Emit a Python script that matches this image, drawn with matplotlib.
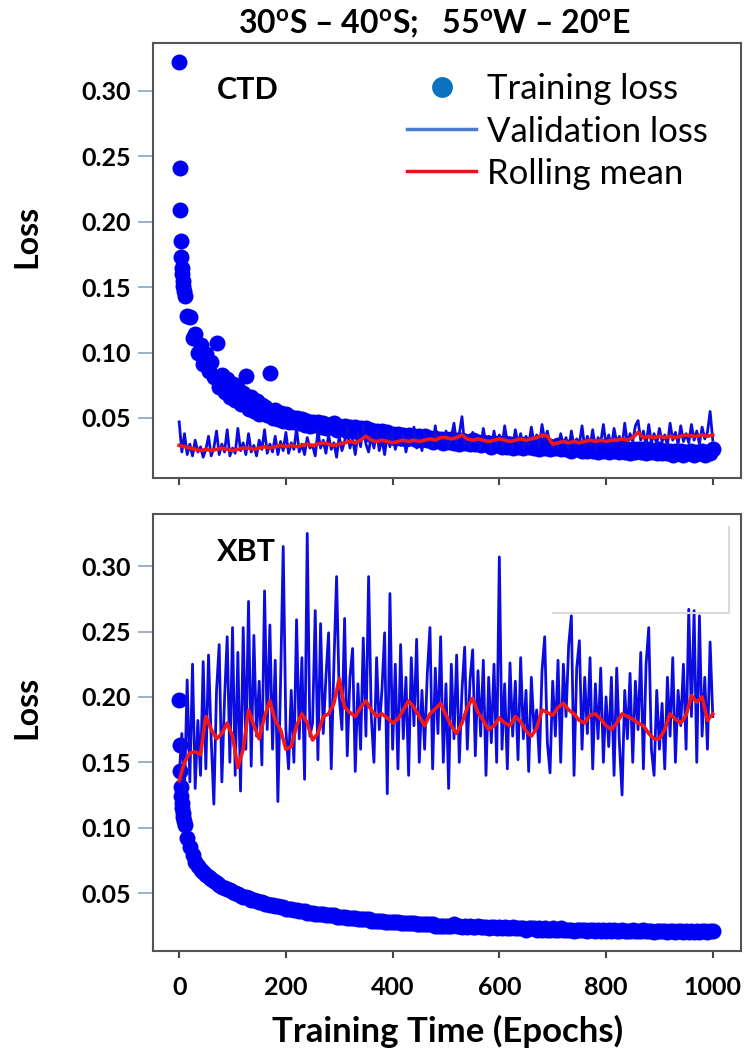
import matplotlib
matplotlib.use("Agg")
import matplotlib.pyplot as plt
from matplotlib.lines import Line2D

plt.rcParams['font.family'] = ['Lato', 'DejaVu Sans']
plt.rcParams['mathtext.fontset'] = 'custom'
plt.rcParams['mathtext.rm'] = 'Lato'
plt.rcParams['mathtext.bf'] = 'Lato:bold'

# epochs: first ten one by one, then every 5 (training); every 5 (validation); every 10 (rolling mean)
train_epochs = list(range(10)) + list(range(10, 1001, 5))
val_epochs = list(range(0, 1001, 5))
roll_epochs = list(range(0, 1001, 10))

# ---- CTD panel ----
ctd_train = [
    0.322, 0.241, 0.209, 0.185, 0.173, 0.165, 0.160, 0.155, 0.151, 0.147,
    0.143, 0.128, 0.127, 0.111, 0.114, 0.100, 0.106, 0.091, 0.099, 0.086,
    0.093, 0.081, 0.107, 0.074, 0.083, 0.070, 0.080, 0.066, 0.076, 0.064,
    0.072, 0.061, 0.069, 0.082, 0.057, 0.066, 0.055, 0.063, 0.053, 0.060,
    0.058, 0.052, 0.084, 0.050, 0.056, 0.049, 0.054, 0.048, 0.053, 0.047,
    0.051, 0.047, 0.050, 0.046, 0.049, 0.045, 0.048, 0.044, 0.047, 0.045,
    0.047, 0.043, 0.046, 0.042, 0.045, 0.043, 0.046, 0.041, 0.044, 0.042,
    0.044, 0.040, 0.043, 0.041, 0.043, 0.039, 0.042, 0.040, 0.042, 0.038,
    0.041, 0.038, 0.040, 0.037, 0.040, 0.036, 0.039, 0.037, 0.038, 0.035,
    0.038, 0.035, 0.037, 0.034, 0.037, 0.035, 0.036, 0.033, 0.036, 0.034,
    0.036, 0.033, 0.035, 0.032, 0.035, 0.033, 0.034, 0.031, 0.034, 0.032,
    0.034, 0.031, 0.033, 0.030, 0.033, 0.031, 0.032, 0.030, 0.033, 0.030,
    0.032, 0.029, 0.032, 0.030, 0.031, 0.028, 0.031, 0.029, 0.031, 0.028,
    0.031, 0.028, 0.030, 0.027, 0.030, 0.028, 0.030, 0.027, 0.029, 0.028,
    0.030, 0.027, 0.029, 0.026, 0.029, 0.027, 0.029, 0.026, 0.028, 0.027,
    0.029, 0.026, 0.028, 0.026, 0.028, 0.025, 0.028, 0.026, 0.027, 0.025,
    0.028, 0.025, 0.027, 0.025, 0.028, 0.024, 0.027, 0.025, 0.027, 0.024,
    0.027, 0.025, 0.026, 0.024, 0.027, 0.024, 0.026, 0.023, 0.026, 0.024,
    0.026, 0.024, 0.026, 0.023, 0.026, 0.024, 0.025, 0.023, 0.026, 0.023,
    0.025, 0.023, 0.025, 0.022, 0.025, 0.023, 0.025, 0.022, 0.024, 0.023,
    0.025, 0.022, 0.024, 0.023, 0.025, 0.022, 0.024, 0.023, 0.026,
]
ctd_val = [
    0.047, 0.024, 0.038, 0.022, 0.030, 0.021, 0.033, 0.024, 0.028, 0.020,
    0.026, 0.036, 0.021, 0.027, 0.040, 0.022, 0.030, 0.024, 0.041, 0.021,
    0.027, 0.023, 0.042, 0.025, 0.031, 0.022, 0.038, 0.024, 0.029, 0.021,
    0.033, 0.026, 0.041, 0.023, 0.030, 0.024, 0.036, 0.022, 0.032, 0.025,
    0.039, 0.023, 0.031, 0.026, 0.042, 0.024, 0.030, 0.022, 0.035, 0.027,
    0.029, 0.021, 0.040, 0.027, 0.033, 0.023, 0.037, 0.026, 0.031, 0.020,
    0.036, 0.025, 0.032, 0.043, 0.027, 0.034, 0.022, 0.038, 0.028, 0.045,
    0.030, 0.024, 0.036, 0.027, 0.040, 0.025, 0.034, 0.022, 0.037, 0.028,
    0.041, 0.026, 0.034, 0.029, 0.038, 0.024, 0.035, 0.030, 0.043, 0.027,
    0.036, 0.025, 0.039, 0.030, 0.034, 0.027, 0.044, 0.029, 0.037, 0.031,
    0.040, 0.028, 0.035, 0.046, 0.030, 0.038, 0.051, 0.029, 0.036, 0.027,
    0.039, 0.031, 0.035, 0.027, 0.042, 0.030, 0.036, 0.026, 0.040, 0.029,
    0.037, 0.028, 0.044, 0.031, 0.035, 0.027, 0.041, 0.030, 0.038, 0.026,
    0.036, 0.029, 0.043, 0.031, 0.037, 0.028, 0.045, 0.033, 0.040, 0.030,
    0.027, 0.033, 0.026, 0.038, 0.029, 0.035, 0.025, 0.040, 0.028, 0.034,
    0.030, 0.044, 0.027, 0.036, 0.029, 0.041, 0.026, 0.035, 0.031, 0.045,
    0.029, 0.037, 0.028, 0.042, 0.031, 0.036, 0.027, 0.046, 0.030, 0.038,
    0.032, 0.044, 0.048, 0.033, 0.040, 0.029, 0.045, 0.031, 0.038, 0.030,
    0.042, 0.032, 0.037, 0.029, 0.046, 0.033, 0.039, 0.030, 0.044, 0.032,
    0.038, 0.031, 0.045, 0.033, 0.040, 0.030, 0.043, 0.034, 0.039, 0.055,
    0.033,
]
ctd_roll = [
    0.029, 0.028, 0.027, 0.026, 0.025, 0.026, 0.025, 0.026, 0.027, 0.026,
    0.025, 0.026, 0.027, 0.027, 0.026, 0.027, 0.028, 0.027, 0.028, 0.029,
    0.028, 0.029, 0.028, 0.029, 0.030, 0.029, 0.030, 0.031, 0.030, 0.029,
    0.030, 0.031, 0.032, 0.031, 0.033, 0.036, 0.033, 0.032, 0.033, 0.032,
    0.031, 0.032, 0.033, 0.032, 0.033, 0.032, 0.033, 0.034, 0.033, 0.035,
    0.035, 0.034, 0.035, 0.037, 0.034, 0.033, 0.034, 0.033, 0.032, 0.033,
    0.034, 0.033, 0.032, 0.033, 0.034, 0.033, 0.034, 0.035, 0.037, 0.036,
    0.030, 0.031, 0.032, 0.031, 0.032, 0.031, 0.032, 0.033, 0.032, 0.033,
    0.032, 0.033, 0.033, 0.034, 0.033, 0.035, 0.039, 0.035, 0.036, 0.035,
    0.036, 0.035, 0.036, 0.035, 0.036, 0.037, 0.036, 0.036, 0.037, 0.036,
    0.037,
]

# ---- XBT panel ----
xbt_train = [
    0.198, 0.163, 0.143, 0.131, 0.124, 0.119, 0.115, 0.111, 0.108, 0.105,
    0.102, 0.092, 0.085, 0.079, 0.074, 0.071, 0.068, 0.066, 0.064, 0.062,
    0.061, 0.059, 0.058, 0.056, 0.055, 0.054, 0.053, 0.052, 0.051, 0.050,
    0.049, 0.048, 0.047, 0.047, 0.046, 0.045, 0.045, 0.044, 0.043, 0.043,
    0.042, 0.042, 0.041, 0.041, 0.040, 0.040, 0.039, 0.039, 0.038, 0.038,
    0.038, 0.037, 0.037, 0.036, 0.036, 0.036, 0.035, 0.035, 0.035, 0.034,
    0.034, 0.034, 0.034, 0.033, 0.033, 0.033, 0.033, 0.032, 0.032, 0.032,
    0.032, 0.031, 0.031, 0.031, 0.031, 0.030, 0.030, 0.030, 0.030, 0.030,
    0.029, 0.029, 0.029, 0.029, 0.029, 0.028, 0.028, 0.028, 0.028, 0.028,
    0.028, 0.027, 0.027, 0.027, 0.027, 0.027, 0.027, 0.026, 0.026, 0.026,
    0.026, 0.026, 0.026, 0.026, 0.025, 0.025, 0.025, 0.025, 0.025, 0.025,
    0.025, 0.026, 0.025, 0.025, 0.024, 0.025, 0.024, 0.025, 0.024, 0.024,
    0.025, 0.024, 0.024, 0.024, 0.023, 0.024, 0.024, 0.023, 0.024, 0.023,
    0.024, 0.023, 0.023, 0.024, 0.023, 0.023, 0.023, 0.023, 0.022, 0.023,
    0.023, 0.023, 0.022, 0.023, 0.022, 0.023, 0.022, 0.022, 0.023, 0.022,
    0.022, 0.023, 0.022, 0.022, 0.022, 0.022, 0.021, 0.022, 0.022, 0.022,
    0.022, 0.021, 0.022, 0.022, 0.021, 0.022, 0.021, 0.022, 0.021, 0.022,
    0.021, 0.022, 0.021, 0.021, 0.022, 0.021, 0.021, 0.021, 0.022, 0.021,
    0.021, 0.021, 0.022, 0.021, 0.021, 0.021, 0.020, 0.021, 0.021, 0.021,
    0.021, 0.020, 0.021, 0.021, 0.020, 0.021, 0.021, 0.020, 0.021, 0.020,
    0.021, 0.020, 0.021, 0.020, 0.021, 0.021, 0.020, 0.021, 0.021,
]
xbt_val = [
    0.140, 0.172, 0.128, 0.213, 0.135, 0.225, 0.130, 0.182, 0.140, 0.227,
    0.145, 0.232, 0.168, 0.118, 0.205, 0.240, 0.135, 0.198, 0.246, 0.150,
    0.253, 0.140, 0.234, 0.128, 0.253, 0.160, 0.273, 0.147, 0.247, 0.170,
    0.212, 0.148, 0.281, 0.175, 0.255, 0.160, 0.228, 0.120, 0.210, 0.315,
    0.175, 0.145, 0.205, 0.150, 0.259, 0.168, 0.230, 0.137, 0.325, 0.170,
    0.180, 0.266, 0.152, 0.256, 0.172, 0.215, 0.249, 0.145, 0.225, 0.292,
    0.200, 0.175, 0.260, 0.155, 0.215, 0.237, 0.143, 0.210, 0.160, 0.245,
    0.170, 0.292, 0.185, 0.150, 0.230, 0.175, 0.205, 0.249, 0.126, 0.279,
    0.160, 0.225, 0.145, 0.240, 0.168, 0.215, 0.140, 0.230, 0.178, 0.244,
    0.150, 0.205, 0.160, 0.218, 0.253, 0.145, 0.222, 0.172, 0.246, 0.150,
    0.210, 0.130, 0.225, 0.168, 0.232, 0.150, 0.205, 0.238, 0.160, 0.212,
    0.236, 0.155, 0.220, 0.170, 0.228, 0.140, 0.215, 0.165, 0.225, 0.150,
    0.307, 0.160, 0.210, 0.145, 0.226, 0.170, 0.212, 0.152, 0.230, 0.168,
    0.205, 0.143, 0.215, 0.175, 0.190, 0.150, 0.220, 0.246, 0.165, 0.142,
    0.212, 0.170, 0.228, 0.150, 0.225, 0.185, 0.240, 0.262, 0.140, 0.222,
    0.243, 0.160, 0.215, 0.172, 0.230, 0.145, 0.210, 0.168, 0.222, 0.150,
    0.200, 0.162, 0.215, 0.140, 0.222, 0.165, 0.125, 0.205, 0.168, 0.218,
    0.150, 0.212, 0.175, 0.234, 0.145, 0.225, 0.253, 0.160, 0.140, 0.205,
    0.160, 0.195, 0.145, 0.215, 0.170, 0.230, 0.150, 0.205, 0.178, 0.225,
    0.160, 0.267, 0.185, 0.266, 0.150, 0.262, 0.170, 0.215, 0.160, 0.242,
    0.185,
]
xbt_roll = [
    0.136, 0.150, 0.157, 0.158, 0.156, 0.185, 0.175, 0.168, 0.172, 0.180,
    0.170, 0.146, 0.160, 0.190, 0.178, 0.168, 0.185, 0.197, 0.182, 0.175,
    0.160, 0.162, 0.178, 0.187, 0.180, 0.167, 0.172, 0.185, 0.187, 0.195,
    0.214, 0.192, 0.188, 0.185, 0.192, 0.197, 0.190, 0.185, 0.187, 0.184,
    0.180, 0.183, 0.190, 0.197, 0.192, 0.185, 0.178, 0.187, 0.191, 0.195,
    0.186, 0.178, 0.172, 0.180, 0.192, 0.199, 0.188, 0.182, 0.175, 0.178,
    0.184, 0.180, 0.178, 0.185, 0.181, 0.174, 0.170, 0.176, 0.190, 0.188,
    0.186, 0.192, 0.195, 0.190, 0.187, 0.182, 0.180, 0.186, 0.187, 0.183,
    0.178, 0.175, 0.180, 0.187, 0.185, 0.183, 0.180, 0.178, 0.172, 0.168,
    0.168, 0.175, 0.187, 0.183, 0.180, 0.186, 0.201, 0.196, 0.200, 0.182,
    0.187,
]

yticks = [0.05, 0.10, 0.15, 0.20, 0.25, 0.30]
xticks = [0, 200, 400, 600, 800, 1000]
title = (r'30$^{\mathbf{o}}$S – 40$^{\mathbf{o}}$S;   '
         r'55$^{\mathbf{o}}$W – 20$^{\mathbf{o}}$E')

DOT = '#0000f5'
VAL = '#0c0ce0'
ROLL = '#f01818'


def draw_panel(ax, tr, va, ro, ylim, name, name_y):
    ax.plot(train_epochs, tr, 'o', ls='none', color=DOT, ms=11.5, mew=0)
    ax.plot(val_epochs, va, color=VAL, lw=2.0)
    ax.plot(roll_epochs, ro, color=ROLL, lw=2.6)
    ax.set_xlim(-49, 1053)
    ax.set_ylim(*ylim)
    ax.set_yticks(yticks)
    ax.set_yticklabels(['%.2f' % t for t in yticks])
    ax.set_xticks(xticks)
    ax.tick_params(axis='y', direction='out', length=11, width=1.2,
                   color='#8fa2bd', pad=5, labelsize=18)
    ax.tick_params(axis='x', direction='out', length=5, width=1.5,
                   color='#444444', pad=13, labelsize=18)
    for lab in ax.get_xticklabels() + ax.get_yticklabels():
        lab.set_fontweight('bold')
    for s in ax.spines.values():
        s.set_color('#555555')
        s.set_linewidth(1.5)
    ax.text(0.109, name_y, name, transform=ax.transAxes, fontsize=22,
            fontweight='bold', ha='left', va='center')


fig = plt.figure(figsize=(7.45, 10.51), dpi=100)
ax1 = fig.add_axes([0.2054, 0.5452, 0.7893, 0.4139])
ax2 = fig.add_axes([0.2054, 0.0951, 0.7893, 0.4158])

draw_panel(ax1, ctd_train, ctd_val, ctd_roll, (0.0041, 0.3367), 'CTD', 0.892)
draw_panel(ax2, xbt_train, xbt_val, xbt_roll, (0.0057, 0.3398), 'XBT', 0.913)
ax1.tick_params(labelbottom=False)

handles = [
    Line2D([], [], marker='o', ls='none', color='#0b72c0', ms=15, mew=0),
    Line2D([], [], color='#4a7bd0', lw=2.5),
    Line2D([], [], color='#e8141c', lw=2.5),
]
ax1.legend(handles, ['Training loss', 'Validation loss', 'Rolling mean'],
           loc='upper left', bbox_to_anchor=(0.432, 0.93), frameon=False,
           fontsize=25, handlelength=2.0, handletextpad=0.3,
           labelspacing=0.29, borderpad=0, borderaxespad=0)

# faint leftover legend frame in the lower panel
ax2.plot([0.680, 0.980], [0.773, 0.773], color='#dadada', lw=1.5,
         transform=ax2.transAxes)
ax2.plot([0.980, 0.980], [0.773, 0.970], color='#dadada', lw=1.5,
         transform=ax2.transAxes)

fig.text(0.583, 0.977, title, ha='center', va='center', fontsize=23,
         fontweight='bold')
fig.text(0.036, 0.7755, 'Loss', rotation=90, ha='center', va='center',
         fontsize=23, fontweight='bold')
fig.text(0.036, 0.3273, 'Loss', rotation=90, ha='center', va='center',
         fontsize=23, fontweight='bold')
fig.text(0.601, 0.019, 'Training Time (Epochs)', ha='center', va='center',
         fontsize=25, fontweight='bold')

fig.savefig('out.png', dpi=100)
